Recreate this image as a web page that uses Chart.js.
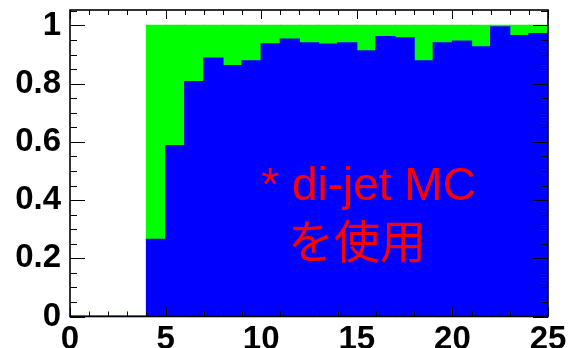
<!DOCTYPE html>
<html>
<head>
<meta charset="utf-8">
<script src="https://cdn.jsdelivr.net/npm/chart.js@4.4.1/dist/chart.umd.min.js"></script>
<style>
  html, body { margin: 0; padding: 0; background: #fff; }
  #wrap { width: 570px; height: 348px; position: relative; }
</style>
</head>
<body>
<div id="wrap"><canvas id="effChart"></canvas></div>
<script>
// bin centres (bins of width 1 from 0 to 25)
const binCenters = [0.5, 1.5, 2.5, 3.5, 4.5, 5.5, 6.5, 7.5, 8.5, 9.5, 10.5, 11.5, 12.5,
                    13.5, 14.5, 15.5, 16.5, 17.5, 18.5, 19.5, 20.5, 21.5, 22.5, 23.5, 24.5];

// blue part of each bin
const blueVals = [0, 0, 0, 0, 0.265, 0.587, 0.807, 0.888, 0.862, 0.878, 0.937, 0.953, 0.940,
                  0.936, 0.940, 0.913, 0.962, 0.957, 0.878, 0.940, 0.946, 0.926, 0.995, 0.965, 0.972];

// green part stacked on top (fills up to 1)
const greenVals = [0, 0, 0, 0, 0.735, 0.413, 0.193, 0.112, 0.138, 0.122, 0.063, 0.047, 0.060,
                   0.064, 0.060, 0.087, 0.038, 0.043, 0.122, 0.060, 0.054, 0.074, 0.005, 0.035, 0.028];

const xTicks = [0, 5, 10, 15, 20, 25];
const yTicks = [0, 0.2, 0.4, 0.6, 0.8, 1];

const noteLine1 = '* di-jet MC';
const noteLine2 = 'を使用';

const toPoints = vals => vals.map((v, i) => ({ x: binCenters[i], y: v }));

// ROOT-like frame with inward ticks, plus the red note
const framePlugin = {
    id: 'frame',
    afterDraw(chart) {
        const { ctx, chartArea: a, scales: { x, y } } = chart;
        ctx.save();
        ctx.strokeStyle = '#000';
        ctx.lineWidth = 1;
        ctx.beginPath();
        for (let v = 0; v <= 25; v++) {
            const px = Math.round(x.getPixelForValue(v)) + 0.5;
            const len = v % 5 === 0 ? 9 : 5;
            ctx.moveTo(px, a.bottom); ctx.lineTo(px, a.bottom - len);
            ctx.moveTo(px, a.top); ctx.lineTo(px, a.top + len);
        }
        for (let k = 0; k <= 21; k++) {
            const v = k * 0.05;
            const py = Math.round(y.getPixelForValue(v)) + 0.5;
            const len = k % 4 === 0 ? 15 : 7;
            ctx.moveTo(a.left, py); ctx.lineTo(a.left + len, py);
            ctx.moveTo(a.right, py); ctx.lineTo(a.right - len, py);
        }
        ctx.stroke();
        ctx.lineWidth = 1.6;
        ctx.strokeRect(a.left, a.top, a.right - a.left, a.bottom - a.top);

        // note text
        ctx.fillStyle = '#ff0000';
        ctx.textBaseline = 'alphabetic';
        ctx.font = '46px "Liberation Sans", Arial, sans-serif';
        ctx.fillText(noteLine1, x.getPixelForValue(10.0), y.getPixelForValue(0.40));
        ctx.font = '46px "Noto Sans CJK JP", sans-serif';
        ctx.fillText(noteLine2, x.getPixelForValue(11.4), y.getPixelForValue(0.20));
        ctx.restore();
    }
};

const barStyle = {
    borderWidth: 0,
    barPercentage: 1,
    categoryPercentage: 1,
    inflateAmount: 0.6,
    stack: 's'
};

new Chart(document.getElementById('effChart'), {
    type: 'bar',
    data: {
        datasets: [
            { label: 'blue', data: toPoints(blueVals), backgroundColor: '#0000ff', ...barStyle },
            { label: 'green', data: toPoints(greenVals), backgroundColor: '#00ff00', ...barStyle },
            {
                type: 'line',
                label: 'zero',
                data: [{ x: 0, y: 0 }, { x: 4, y: 0 }],
                borderColor: '#0000ff',
                borderWidth: 2,
                pointRadius: 0
            }
        ]
    },
    options: {
        responsive: true,
        maintainAspectRatio: false,
        animation: false,
        layout: { padding: { top: 10, right: 22, left: 0, bottom: 0 } },
        plugins: { legend: { display: false }, tooltip: { enabled: false } },
        scales: {
            x: {
                type: 'linear',
                offset: false,
                stacked: true,
                min: 0,
                max: 25,
                grid: { display: false, offset: false },
                border: { display: false },
                afterBuildTicks: s => { s.ticks = xTicks.map(v => ({ value: v })); },
                afterFit: s => { s.height = 31.5; },
                ticks: {
                    color: '#000',
                    padding: -4,
                    maxRotation: 0,
                    autoSkip: false,
                    font: { family: '"Liberation Sans", Arial, sans-serif', size: 33, weight: 'bold' }
                }
            },
            y: {
                stacked: true,
                min: 0,
                max: 1.053,
                grid: { display: false },
                border: { display: false },
                afterBuildTicks: s => { s.ticks = yTicks.map(v => ({ value: v })); },
                afterFit: s => { s.width = 70; },
                ticks: {
                    color: '#000',
                    padding: 1,
                    autoSkip: false,
                    callback: v => String(Math.round(v * 10) / 10),
                    font: { family: '"Liberation Sans", Arial, sans-serif', size: 33, weight: 'bold', lineHeight: 0.4 }
                }
            }
        }
    },
    plugins: [framePlugin]
});
</script>
</body>
</html>
